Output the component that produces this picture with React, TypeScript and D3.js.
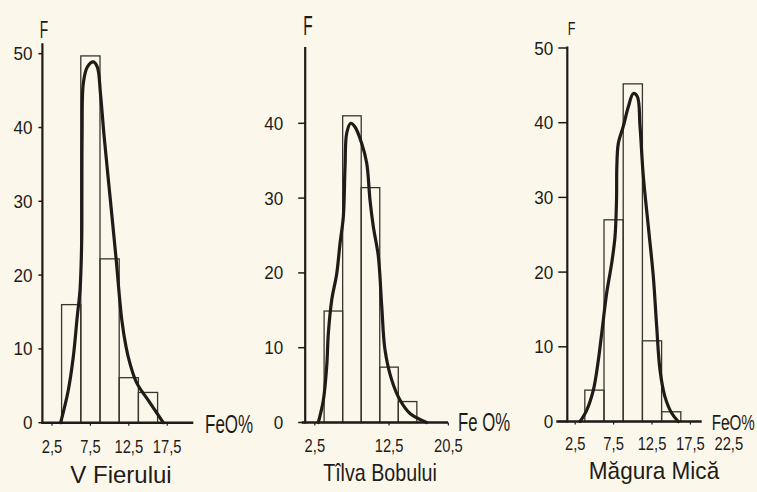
import React from "react";
import * as d3 from "d3";

// ---------- data ----------
const sites = ["V Fierului", "Tîlva Bobului", "Măgura Mică"];
const classMidpoints = [5, 7.5, 10, 12.5, 15];
const classWidth = 2.5;

const fierFreq = [16, 49.7, 22.2, 6.1, 4.1];
const tilvaFreq = [14.9, 41, 31.4, 7.4, 2.8];
const maguraFreq = [4.2, 27, 45.2, 10.8, 1.3];

const fierCurve: [number, number][] = [
  [3.63, 0], [4.62, 4.4], [5.27, 8.9], [5.79, 14.4], [6.15, 18], [6.37, 24.8],
  [6.39, 30], [6.42, 39], [6.58, 46], [7.1, 48.2], [7.88, 48.9], [8.4, 48.2],
  [8.82, 44.5], [9.27, 39], [10.05, 30.7], [10.83, 22.4], [11.58, 14],
  [12.14, 10.3], [12.66, 8], [13.53, 5.4], [15.26, 2.7], [16.99, 0],
];
const tilvaCurve: [number, number][] = [
  [2.97, 0], [3.65, 3], [4.1, 7.5], [4.32, 11.9], [4.78, 16.4], [5.45, 19.9],
  [5.9, 24], [6.34, 27.5], [6.57, 34.2], [6.8, 38.7], [7.34, 40], [7.92, 39.5],
  [8.82, 37.3], [9.49, 34.7], [9.94, 29.7], [10.38, 26.2], [11.06, 22.2],
  [11.52, 15.5], [11.96, 9.7], [12.86, 5.7], [13.98, 3], [15.33, 1.2], [17.58, 0],
];
const maguraCurve: [number, number][] = [
  [3.13, 0], [3.99, 1.5], [4.86, 4.2], [5.51, 8.2], [5.95, 11.8], [6.6, 17.2],
  [7.25, 21.2], [7.68, 24.7], [7.88, 29.7], [7.92, 34.1], [8.11, 37.2],
  [8.76, 39.5], [9.41, 42.1], [10.07, 43.9], [10.59, 43.5], [10.94, 39.5],
  [11.37, 32.8], [12.02, 26.1], [12.67, 19.4], [13.11, 12.7], [13.54, 6.9],
  [14.19, 3.3], [15.07, 1.1], [15.92, 0],
];

const fierXTicks = [2.5, 7.5, 12.5, 17.5];
const tilvaXTicks = [2.5, 12.5, 20.5];
const maguraXTicks = [2.5, 7.5, 12.5, 17.5, 22.5];
const fierYTicks = [0, 10, 20, 30, 40, 50];
const tilvaYTicks = [0, 10, 20, 30, 40];
const maguraYTicks = [0, 10, 20, 30, 40, 50];
const xAxisNames = ["FeO%", "Fe O%", "FeO%"];
const yAxisName = "F";

// ---------- layout ----------
const W = 757;
const H = 492;
const INK = "#1f1b18";
const BAR = "#3b342e";
const BG = "#fbf8eb";
const FONT = "'Liberation Sans', 'DejaVu Sans', sans-serif";

type Panel = {
  name: string;
  freq: number[];
  curve: [number, number][];
  xTicks: number[];
  yTicks: number[];
  xName: string;
  xDomain: [number, number];
  xRange: [number, number];
  xOverhang: number;
  yDomain: [number, number];
  yRange: [number, number];
  yTopVal: number;
  yLabelGap: number;
  tickLen: number;
  xLabelBase: number;
  xLabelSize: number;
  xLabelSx: number;
  titleX: number;
  titleBase: number;
  titleSx: number;
  fX: number;
  fBase: number;
  fSize: number;
  fSx: number;
  nameX: number;
  nameBase: number;
  nameSize: number;
  nameSx: number;
};

const panels: Panel[] = [
  {
    name: sites[0], freq: fierFreq, curve: fierCurve, xTicks: fierXTicks, yTicks: fierYTicks,
    xName: xAxisNames[0],
    xDomain: [1.25, 20.9], xRange: [42.4, 193.3], xOverhang: 1,
    yDomain: [0, 50], yRange: [422.7, 53.7], yTopVal: 51.4,
    yLabelGap: 10, tickLen: 4,
    xLabelBase: 453, xLabelSize: 18, xLabelSx: 0.82,
    titleX: 121, titleBase: 483, titleSx: 1.0,
    fX: 44, fBase: 38, fSize: 23, fSx: 0.6,
    nameX: 205, nameBase: 433, nameSize: 25, nameSx: 0.68,
  },
  {
    name: sites[1], freq: tilvaFreq, curve: tilvaCurve, xTicks: tilvaXTicks, yTicks: tilvaYTicks,
    xName: xAxisNames[1],
    xDomain: [1.2, 20.45], xRange: [305.2, 448], xOverhang: 3.5,
    yDomain: [0, 40], yRange: [422.5, 123.3], yTopVal: 50.2,
    yLabelGap: 22, tickLen: 7,
    xLabelBase: 451.5, xLabelSize: 18, xLabelSx: 0.82,
    titleX: 380, titleBase: 481, titleSx: 0.82,
    fX: 308, fBase: 35, fSize: 28, fSx: 0.55,
    nameX: 458, nameBase: 431, nameSize: 25, nameSx: 0.67,
  },
  {
    name: sites[2], freq: maguraFreq, curve: maguraCurve, xTicks: maguraXTicks, yTicks: maguraYTicks,
    xName: xAxisNames[2],
    xDomain: [1.47, 18.97], xRange: [567.3, 701.7], xOverhang: 11,
    yDomain: [0, 50], yRange: [421.5, 48], yTopVal: 50.2,
    yLabelGap: 14, tickLen: 9,
    xLabelBase: 450, xLabelSize: 18, xLabelSx: 0.82,
    titleX: 654, titleBase: 479, titleSx: 0.94,
    fX: 571.7, fBase: 35, fSize: 18, fSx: 0.7,
    nameX: 711.7, nameBase: 430, nameSize: 22, nameSx: 0.69,
  },
];

const fmt = (v: number) => String(v).replace(".", ",");

function Txt(props: {
  x: number; y: number; sx?: number; size: number; anchor?: string; children: React.ReactNode;
}) {
  const { x, y, sx = 1, size, anchor = "start", children } = props;
  return (
    <text
      transform={`translate(${x},${y}) scale(${sx},1)`}
      fontSize={size}
      fontFamily={FONT}
      textAnchor={anchor}
      fill={INK}
    >
      {children}
    </text>
  );
}

function HistPanel({ p }: { p: Panel }) {
  const x = d3.scaleLinear().domain(p.xDomain).range(p.xRange);
  const y = d3.scaleLinear().domain(p.yDomain).range(p.yRange);
  const line = d3
    .line<[number, number]>()
    .x((d) => x(d[0]))
    .y((d) => y(d[1]))
    .curve(d3.curveCatmullRom.alpha(0.5));
  const x0 = x(p.xDomain[0]);
  const y0 = y(0);
  return (
    <g>
      {/* bars */}
      {classMidpoints.map((m, i) => {
        const xl = x(m - classWidth / 2);
        const xr = x(m + classWidth / 2);
        const yt = y(p.freq[i]);
        return (
          <rect
            key={i}
            x={xl}
            y={yt}
            width={xr - xl}
            height={y0 - yt}
            fill="none"
            stroke={BAR}
            strokeWidth={1.3}
          />
        );
      })}
      {/* axes */}
      <line x1={x0} x2={x0} y1={y(p.yTopVal)} y2={y0 + 1} stroke={INK} strokeWidth={2.2} />
      <line
        x1={x0 - p.xOverhang}
        x2={p.xRange[1]}
        y1={y0}
        y2={y0}
        stroke={INK}
        strokeWidth={2.4}
      />
      {/* y ticks */}
      {p.yTicks.map((t) => (
        <g key={t}>
          <line x1={x0 - p.tickLen} x2={x0} y1={y(t)} y2={y(t)} stroke={INK} strokeWidth={1.5} />
          <Txt x={x0 - p.yLabelGap} y={y(t) + 6.5} size={18} sx={0.95} anchor="end">
            {t}
          </Txt>
        </g>
      ))}
      {/* x ticks */}
      {p.xTicks.map((t) => (
        <g key={t}>
          <line x1={x(t)} x2={x(t)} y1={y0} y2={y0 + 3} stroke={INK} strokeWidth={1.2} />
          <Txt x={x(t)} y={p.xLabelBase} size={p.xLabelSize} sx={p.xLabelSx} anchor="middle">
            {fmt(t)}
          </Txt>
        </g>
      ))}
      {/* fitted curve */}
      <path
        d={line(p.curve) || ""}
        fill="none"
        stroke={INK}
        strokeWidth={3.2}
        strokeLinecap="round"
        strokeLinejoin="round"
      />
      {/* axis names */}
      <Txt x={p.fX} y={p.fBase} size={p.fSize} sx={p.fSx} anchor="middle">
        {yAxisName}
      </Txt>
      <Txt x={p.nameX} y={p.nameBase} size={p.nameSize} sx={p.nameSx}>
        {p.xName}
      </Txt>
      {/* title */}
      <Txt x={p.titleX} y={p.titleBase} size={24} sx={p.titleSx} anchor="middle">
        {p.name}
      </Txt>
    </g>
  );
}

export default function App() {
  return (
    <svg
      width={W}
      height={H}
      viewBox={`0 0 ${W} ${H}`}
      style={{ position: "absolute", left: 0, top: 0, display: "block" }}
    >
      <rect x={0} y={0} width={W} height={H} fill={BG} />
      {panels.map((p) => (
        <HistPanel key={p.name} p={p} />
      ))}
    </svg>
  );
}
